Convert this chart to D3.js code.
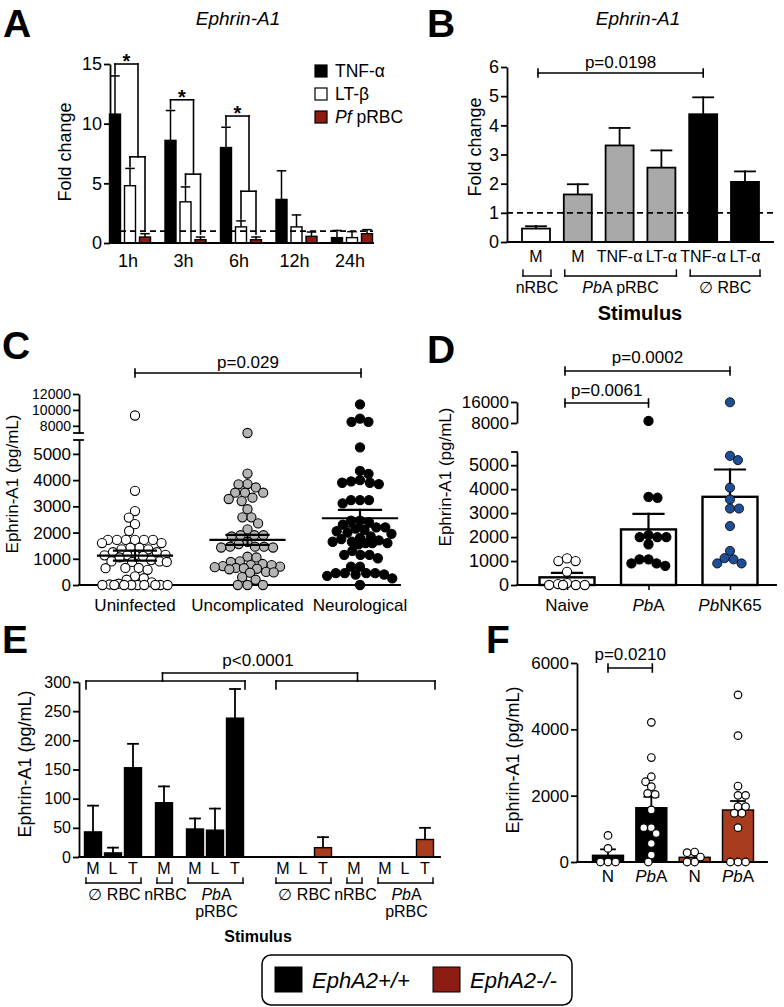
<!DOCTYPE html>
<html><head><meta charset="utf-8">
<script src="https://cdn.jsdelivr.net/npm/d3@7"></script>
<style>
body{margin:0;background:#fff}
svg text{font-family:"Liberation Sans",Arial,Helvetica,sans-serif;fill:#000}
</style>
</head><body>
<svg id="chart" width="784" height="1007"></svg>
<script>
// ---------------- DATA ----------------
// Panel A
const aTimes = ["1h","3h","6h","12h","24h"];
const aSeries = ["TNF-α","LT-β","*Pf* pRBC"];
const aTNF = [10.8, 8.6, 8.0, 3.65, 0.45];
const aTNFErr = [3.2, 2.5, 1.7, 2.4, 0.6];
const aLTB = [4.8, 3.45, 1.35, 1.35, 0.45];
const aLTBErr = [1.45, 1.25, 0.5, 1.0, 0.5];
const aPf = [0.5, 0.28, 0.28, 0.56, 0.78];
const aPfErr = [0.28, 0.22, 0.22, 0.36, 0.34];
const aTicks = [0, 5, 10, 15];
const aBracketTop = [15.0, 12.0, 10.64];
const aBracketSub = [7.22, 5.77, 4.34];

// Panel B
const bCats = ["M","M","TNF-α","LT-α","TNF-α","LT-α"];
const bVals = [0.46, 1.63, 3.31, 2.55, 4.38, 2.06];
const bErr = [0.08, 0.35, 0.6, 0.59, 0.58, 0.36];
const bGroupOf = [0, 1, 1, 1, 2, 2];
const bGroups = ["nRBC", "*Pb*A pRBC", "∅ RBC"];
const bTicks = [0,1,2,3,4,5,6];

// Panel C
const cCats = ["Uninfected","Uncomplicated","Neurological"];
const cUninfected = [9300,3590,2820,2570,2320,2060,1720,1720,1720,1720,1720,1720,1600,1600,1420,1420,1360,1360,1250,1250,1150,1130,1130,1130,1100,1050,950,900,900,880,880,650,640,650,580,330,260,200,100,50,20,0,0,0,0,0,0,0,0,0];
const cUncomplicated = [7100,4250,3850,3840,3720,3520,3520,3520,3330,3280,3200,2890,2580,2580,2350,2120,1900,1900,1900,1850,1650,1560,1460,1460,1460,1430,1430,1080,1050,900,880,800,760,720,680,650,620,600,640,700,760,500,480,470,300,200,0,0,0];
const cNeurological = [10700,8900,8500,8500,5250,4350,4240,4000,3950,3900,3850,3900,3240,3240,3240,3110,2450,2450,2400,2300,2200,2200,2150,2100,2050,2000,1950,1850,1800,1750,1700,1650,1650,1600,1600,1600,1550,1300,1150,1150,1150,1020,700,700,450,450,450,450,400,400,350,250,0];
const cMean = [1120, 1718, 2545];
const cSem = [190, 190, 320];
const cTicksLow = [0,1000,2000,3000,4000,5000];
const cTicksHigh = [8000,10000,12000];

// Panel D
const dCats = ["Naive","*Pb*A","*Pb*NK65"];
const dNaive = [1000,1110,1000,550,80,40,0,0,0,0];
const dPbA = [8800,3640,3680,2000,2000,2000,2080,1700,1070,1070,900,900,800];
const dPbNK65 = [15900,5390,5210,4060,3570,3190,3190,2460,1420,1070,1120,900,900];
const dMean = [320, 2320, 3680];
const dErr = [185, 650, 1140];
const dTicksLow = [0,1000,2000,3000,4000,5000];
const dTicksHigh = [8000,16000];

// Panel E
const eCats = ["M","L","T","M","M","L","T"];
const eSubOf = [0,0,0,1,2,2,2];
const eSubGroups = ["∅ RBC","nRBC","*Pb*A|pRBC"];
const eWT = [43, 7, 153, 93, 48, 46, 238];
const eWTErr = [45, 9, 41, 28, 18, 37, 50];
const eKO = [0, 0, 16, 0, 0, 0, 30];
const eKOErr = [0, 0, 18, 0, 0, 0, 20];
const eTicks = [0,50,100,150,200,250,300];

// Panel F
const fCats = ["N","*Pb*A","N","*Pb*A"];
const fGenoOf = [0,0,1,1];
const fMean = [202, 1637, 142, 1568];
const fErr = [180, 330, 100, 270];
const fDots = [
  [800, 410, 0, 0, 0],
  [4210,3150,2570,2420,2270,2040,2070,1570,1035,1035,860,560,210,0],
  [280, 300, 150, 0, 0],
  [5040,3810,2290,2010,2010,1670,1670,1470,1470,1035,0,0,0]
];
const fTicks = [0,2000,4000,6000];

const legendItems = ["EphA2+/+","EphA2-/-"];

// ---------------- STYLE ----------------
const RED_DARK = "#8c1b12";
const RED = "#a93c1f";
const GRAY = "#a9a9a9";
const CGRAY = "#b4b4b4";
const BLUE = "#1f4e96";
const AX = 1.8;

const svg = d3.select("#chart");

function rich(sel, str){
  str.split("*").forEach((p,i)=>{ if(p) sel.append("tspan").attr("font-style", i%2 ? "italic" : null).text(p); });
  return sel;
}
function label(g, x, y, str, o={}){
  const t = g.append("text").attr("x",x).attr("y",y)
    .attr("font-size", o.size||17).attr("text-anchor", o.anchor||"middle");
  if(o.bold) t.attr("font-weight","bold");
  if(o.italic) t.attr("font-style","italic");
  rich(t, str);
  return t;
}
function ylabel(g, cx, cy, str, size){
  g.append("text").attr("transform",`translate(${cx},${cy}) rotate(-90)`)
    .attr("text-anchor","middle").attr("dominant-baseline","central")
    .attr("font-size",size).text(str);
}
function line(g,x1,y1,x2,y2,w){
  return g.append("line").attr("x1",x1).attr("y1",y1).attr("x2",x2).attr("y2",y2)
    .attr("stroke","#000").attr("stroke-width",w||1.6).attr("stroke-linecap","square");
}
function yAxis(g, x, scale, ticks, size){
  const ax = g.append("g").attr("transform",`translate(${x},0)`)
    .call(d3.axisLeft(scale).tickValues(ticks).tickFormat(d3.format("d")).tickSize(6).tickSizeOuter(0).tickPadding(2));
  ax.select(".domain").attr("stroke-width",AX);
  ax.selectAll(".tick line").attr("stroke-width",AX);
  ax.selectAll("text").attr("font-size",size).attr("font-family",null).attr("fill","#000");
  return ax;
}
function pBracket(g,x1,x2,y,txt,ty,size){
  line(g,x1,y,x2,y,1.6);
  line(g,x1,y-4,x1,y+4,1.6);
  line(g,x2,y-4,x2,y+4,1.6);
  label(g,(x1+x2)/2,ty,txt,{size:size||17});
}
function letter(x,y,s){ svg.append("text").attr("x",x).attr("y",y).attr("font-size",39).attr("font-weight","bold").text(s); }
function errBar(g,x,yTop,yErr,half,w){
  line(g,x,yTop,x,yErr,w||1.6);
  line(g,x-half,yErr,x+half,yErr,w||1.6);
}
// beeswarm: x offsets from values, within a maximum half-width (overlap allowed when crowded)
function swarm(values, yf, r, sep, maxHalf){
  const pts = values.map(v=>({v, y:yf(v), x:0}));
  const order = pts.slice().sort((a,b)=>b.v-a.v);
  const placed=[];
  order.forEach((p,k)=>{
    let s = sep, done = false;
    while(!done){
      const d = 2*r*s;
      const c=[0];
      placed.forEach(q=>{const dy=Math.abs(q.y-p.y); if(dy<d){const dx=Math.sqrt(d*d-dy*dy); c.push(q.x+dx,q.x-dx);}});
      c.sort((a,b)=>Math.abs(a)-Math.abs(b) || (k%2? a-b : b-a));
      for(const cx of c){
        if(Math.abs(cx)<=maxHalf && placed.every(q=>(q.x-cx)**2+(q.y-p.y)**2>=d*d-0.01)){p.x=cx;done=true;break;}
      }
      s -= 0.05;
      if(!done && s<0.2){p.x=0;done=true;}
    }
    placed.push(p);
  });
  return pts;
}

// ================= PANEL A =================
{
  const g = svg.append("g");
  letter(3,37,"A");
  label(g,238,25,"Ephrin-A1",{size:19,italic:true});
  const y = d3.scaleLinear().domain([0,15]).range([243,64]);
  const x = d3.scalePoint().domain(aTimes).range([130,352]);
  const offs = [-15,0,15], bw = 11;
  const series = [[aTNF,aTNFErr,"#000"],[aLTB,aLTBErr,"#fff"],[aPf,aPfErr,RED_DARK]];
  series.forEach(([vals,errs,col],si)=>{
    vals.forEach((v,i)=>{
      const cx = x(aTimes[i])+offs[si];
      errBar(g,cx,y(v),y(v+errs[i]),4,1.5);
      g.append("rect").attr("x",cx-bw/2).attr("y",y(v)).attr("width",bw).attr("height",y(0)-y(v))
        .attr("fill",col).attr("stroke","#000").attr("stroke-width",1.4);
    });
  });
  g.append("line").attr("x1",110).attr("x2",373).attr("y1",y(1)).attr("y2",y(1))
    .attr("stroke","#000").attr("stroke-width",1.8).attr("stroke-dasharray","6,4");
  yAxis(g,110,y,aTicks,18);
  line(g,110,y(0),373,y(0),AX);
  aTimes.forEach((t,i)=>label(g,x(t)-2,267,t,{size:18}));
  aBracketTop.forEach((lv,i)=>{
    const cT = x(aTimes[i])+offs[0], cL = x(aTimes[i])+offs[1], cP = x(aTimes[i])+offs[2];
    const mid = (cL+cP)/2 + 0.5;
    const yt = y(lv), ys = y(aBracketSub[i]);
    line(g,cT,yt,mid,yt,1.6); line(g,cT,yt,cT,y(aTNF[i]+aTNFErr[i])-2,1.6); line(g,mid,yt,mid,ys,1.6);
    line(g,cL,ys,cP,ys,1.6); line(g,cL,ys,cL,y(aLTB[i]+aLTBErr[i])-2,1.6); line(g,cP,ys,cP,y(aPf[i]+aPfErr[i])-3,1.6);
    g.append("text").attr("x",(cT+mid)/2).attr("y",yt+4).attr("text-anchor","middle")
      .attr("font-size",20).attr("font-weight","bold").text("*");
  });
  const lc = ["#000","#fff",RED_DARK];
  aSeries.forEach((s,i)=>{
    g.append("rect").attr("x",315).attr("y",65+i*23).attr("width",12).attr("height",12)
      .attr("fill",lc[i]).attr("stroke","#000").attr("stroke-width",1.2);
    label(g,335,77+i*23,s,{size:17.5,anchor:"start"});
  });
  ylabel(g,65,152,"Fold change",18);
}

// ================= PANEL B =================
{
  const g = svg.append("g");
  letter(427,37,"B");
  label(g,638,25,"Ephrin-A1",{size:19,italic:true});
  const y = d3.scaleLinear().domain([0,6]).range([242,67]);
  const x = d3.scalePoint().domain(d3.range(bCats.length)).range([536,745]);
  const bw = 28, fills = ["#fff",GRAY,"#000"];
  bVals.forEach((v,i)=>{
    errBar(g,x(i),y(v),y(v+bErr[i]),10,1.8);
    g.append("rect").attr("x",x(i)-bw/2).attr("y",y(v)).attr("width",bw).attr("height",y(0)-y(v))
      .attr("fill",fills[bGroupOf[i]]).attr("stroke","#000").attr("stroke-width",1.8);
  });
  g.append("line").attr("x1",507).attr("x2",773).attr("y1",y(1)).attr("y2",y(1))
    .attr("stroke","#000").attr("stroke-width",1.8).attr("stroke-dasharray","6,4");
  yAxis(g,507,y,bTicks,18);
  line(g,507,y(0),773,y(0),AX);
  bCats.forEach((c,i)=>label(g,x(i),262,c,{size:16}));
  bGroups.forEach((gname,gi)=>{
    const idx = d3.range(bCats.length).filter(i=>bGroupOf[i]===gi);
    const x1 = x(idx[0])-bw/2+1, x2 = x(idx[idx.length-1])+bw/2+1;
    line(g,x1,276,x2,276,1.4); line(g,x1,270,x1,276,1.4); line(g,x2,270,x2,276,1.4);
    label(g,(x1+x2)/2,293,gname,{size:16});
  });
  label(g,640,320,"Stimulus",{size:20,bold:true});
  pBracket(g,x(0)+2,x(4),73,"p=0.0198",68,17);
  ylabel(g,475,147,"Fold change",18);
}

// ================= PANEL C =================
{
  const g = svg.append("g");
  letter(2,359,"C");
  const yLow = d3.scaleLinear().domain([0,5530]).range([585,440]);
  const yHigh = d3.scaleLinear().domain([7100,12000]).range([433,394]);
  const yf = v => v > 6000 ? yHigh(v) : yLow(v);
  const x = d3.scalePoint().domain(cCats).range([135,360]);
  yAxis(g,79,yLow,cTicksLow,17);
  yAxis(g,79,yHigh,cTicksHigh,14);
  line(g,74,yLow.range()[1],83,yLow.range()[1],AX);
  line(g,74,yHigh.range()[0],83,yHigh.range()[0],AX);
  line(g,79,585,400,585,AX);
  const sets = [cUninfected,cUncomplicated,cNeurological], fills=["#fff",CGRAY,"#000"];
  sets.forEach((vals,ci)=>{
    const pts = swarm(vals,yf,4.6,0.98,33);
    g.append("g").selectAll("circle").data(pts).join("circle")
      .attr("cx",d=>x(cCats[ci])+d.x).attr("cy",d=>d.y).attr("r",4.6)
      .attr("fill",fills[ci]).attr("stroke","#000").attr("stroke-width",1.1);
    const cx = x(cCats[ci]), m = cMean[ci], s = cSem[ci];
    line(g,cx-37,yLow(m),cx+37,yLow(m),2.2);
    line(g,cx,yLow(m-s),cx,yLow(m+s),2.2);
    line(g,cx-21,yLow(m+s),cx+21,yLow(m+s),2.2);
    line(g,cx-21,yLow(m-s),cx+21,yLow(m-s),2.2);
    label(g,cx,611,cCats[ci],{size:17});
  });
  pBracket(g,x(cCats[0]),x(cCats[2])+1,373,"p=0.029",368,17);
  ylabel(g,12,484,"Ephrin-A1 (pg/mL)",17);
}

// ================= PANEL D =================
{
  const g = svg.append("g");
  letter(427,363,"D");
  const yLow = d3.scaleLinear().domain([0,5550]).range([585,452]);
  const yHigh = d3.scaleLinear().domain([8000,16000]).range([423,402]);
  const yf = v => v > 6000 ? yHigh(v) : yLow(v);
  const x = d3.scalePoint().domain(dCats).range([567,730]);
  const bw = 55;
  dMean.forEach((v,i)=>{
    const cx = x(dCats[i]);
    errBar(g,cx,yLow(v),yLow(v+dErr[i]),15,2.2);
    g.append("rect").attr("x",cx-bw/2).attr("y",yLow(v)).attr("width",bw).attr("height",yLow(0)-yLow(v))
      .attr("fill","#fff").attr("stroke","#000").attr("stroke-width",2.4);
  });
  yAxis(g,517,yLow,dTicksLow,18);
  yAxis(g,517,yHigh,dTicksHigh,17);
  line(g,512,yLow.range()[1],517,yLow.range()[1],AX);
  const xa = g.append("g").attr("transform","translate(0,585)")
    .call(d3.axisBottom(x).tickSize(5).tickFormat(""));
  xa.select(".domain").remove();
  xa.selectAll(".tick line").attr("stroke-width",1.6);
  line(g,517,585,776,585,AX);
  const sets=[dNaive,dPbA,dPbNK65], fills=["#fff","#000",BLUE];
  sets.forEach((vals,ci)=>{
    const pts = swarm(vals,yf,4.6,0.98,22);
    g.append("g").selectAll("circle").data(pts).join("circle")
      .attr("cx",d=>x(dCats[ci])+d.x).attr("cy",d=>d.y).attr("r",4.6)
      .attr("fill",fills[ci]).attr("stroke","#000").attr("stroke-width",ci===2?0.8:1.1);
    label(g,x(dCats[ci]),611,dCats[ci],{size:17});
  });
  pBracket(g,x(dCats[0])-2,x(dCats[2]),371,"p=0.0002",363,17);
  pBracket(g,x(dCats[0])-2,x(dCats[1]),403,"p=0.0061",396,17);
  ylabel(g,445,477,"Ephrin-A1 (pg/mL)",17);
}

// ================= PANEL E =================
{
  const g = svg.append("g");
  letter(2,653,"E");
  const y = d3.scaleLinear().domain([0,300]).range([857,682]);
  const x = d3.scaleLinear().domain([0,1]).range([93,113]);
  const slot = (geno,i) => x(i + eSubOf[i]*0.55 + geno*9.5);
  const bw = 17;
  [[eWT,eWTErr,"#000"],[eKO,eKOErr,RED]].forEach(([vals,errs,col],gi)=>{
    vals.forEach((v,i)=>{
      const cx = slot(gi,i);
      if(v>0){
        errBar(g,cx,y(v),y(v+errs[i]),5,1.8);
        g.append("rect").attr("x",cx-bw/2).attr("y",y(v)).attr("width",bw).attr("height",y(0)-y(v))
          .attr("fill",col).attr("stroke","#000").attr("stroke-width",1.4);
      }
      label(g,cx,874,eCats[i],{size:16});
    });
    eSubGroups.forEach((sg,si)=>{
      const idx = d3.range(eCats.length).filter(i=>eSubOf[i]===si);
      const x1 = slot(gi,idx[0])-7, x2 = slot(gi,idx[idx.length-1])+8;
      line(g,x1,883,x2,883,1.4); line(g,x1,878,x1,883,1.4); line(g,x2,878,x2,883,1.4);
      sg.split("|").forEach((ln,li)=>label(g,(x1+x2)/2+1,900+li*17,ln,{size:16}));
    });
  });
  yAxis(g,79,y,eTicks,16);
  line(g,79,857,440,857,AX);
  const L1 = slot(0,0)-7, L2 = slot(0,6)+10, R1 = slot(1,0)-7, R2 = slot(1,6)+10;
  [[L1,L2],[R1,R2]].forEach(([a,b])=>{ line(g,a,681,b,681,1.6); line(g,a,681,a,689,1.6); line(g,b,681,b,689,1.6); });
  const mL=(L1+L2)/2-3, mR=(R1+R2)/2+2;
  line(g,mL,673,mR,673,1.6); line(g,mL,673,mL,681,1.6); line(g,mR,673,mR,681,1.6);
  label(g,258,666,"p<0.0001",{size:17});
  label(g,258,942,"Stimulus",{size:16,bold:true});
  ylabel(g,25,764,"Ephrin-A1 (pg/mL)",18);
}

// ================= PANEL F =================
{
  const g = svg.append("g");
  letter(486,653,"F");
  const y = d3.scaleLinear().domain([0,6000]).range([862,663]);
  const x = d3.scalePoint().domain(d3.range(fCats.length)).range([608,738]);
  const bw = 31, fills=["#000",RED];
  fMean.forEach((v,i)=>{
    errBar(g,x(i),y(v),y(v+fErr[i]),7,1.8);
    g.append("rect").attr("x",x(i)-bw/2).attr("y",y(v)).attr("width",bw).attr("height",y(0)-y(v))
      .attr("fill",fills[fGenoOf[i]]).attr("stroke","#000").attr("stroke-width",1.4);
  });
  yAxis(g,577,y,fTicks,17);
  line(g,577,862,767,862,AX);
  fDots.forEach((vals,i)=>{
    const pts = swarm(vals,y,3.8,1.0,11);
    g.append("g").selectAll("circle").data(pts).join("circle")
      .attr("cx",d=>x(i)+d.x).attr("cy",d=>d.y).attr("r",3.8)
      .attr("fill","#fff").attr("stroke","#000").attr("stroke-width",1.2);
    label(g,x(i),882,fCats[i],{size:17});
  });
  pBracket(g,x(0),x(1)+1,668,"p=0.0210",660,17);
  ylabel(g,513,760,"Ephrin-A1 (pg/mL)",18);
}

// ================= LEGEND =================
{
  const g = svg.append("g");
  g.append("rect").attr("x",262).attr("y",955).attr("width",310).attr("height",50).attr("rx",9)
    .attr("fill","#fff").attr("stroke","#000").attr("stroke-width",1.5);
  const cols = ["#000",RED_DARK], xs=[275,433];
  legendItems.forEach((s,i)=>{
    g.append("rect").attr("x",xs[i]).attr("y",967).attr("width",27).attr("height",25)
      .attr("fill",cols[i]).attr("stroke","#000").attr("stroke-width",1);
    label(g,xs[i]+37,988,s,{size:22,italic:true,anchor:"start"});
  });
}
</script>
</body></html>
